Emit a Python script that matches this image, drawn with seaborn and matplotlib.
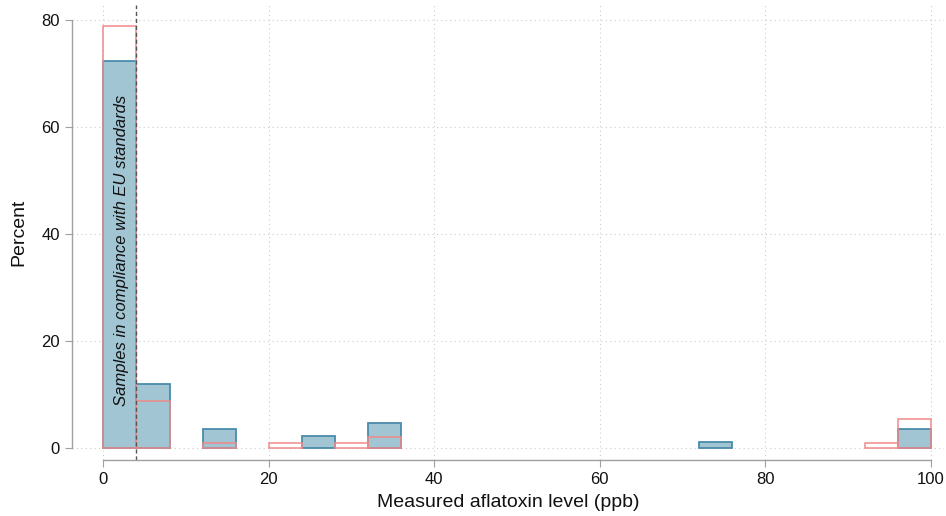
import numpy as np
import pandas as pd
import matplotlib
matplotlib.use("Agg")
import matplotlib.pyplot as plt
import seaborn as sns

# bins of width 4 ppb from 0 to 100 (left edges)
bin_left = [0, 4, 8, 12, 16, 20, 24, 28, 32, 36, 40, 44, 48,
            52, 56, 60, 64, 68, 72, 76, 80, 84, 88, 92, 96]
# percent of samples per bin
blue_pct = [72.3, 12.0, 0, 3.6, 0, 0, 2.4, 0, 4.8, 0, 0, 0, 0,
            0, 0, 0, 0, 0, 1.2, 0, 0, 0, 0, 0, 3.6]
red_pct = [78.9, 8.9, 0, 1.1, 0, 1.1, 0, 1.1, 2.2, 0, 0, 0, 0,
           0, 0, 0, 0, 0, 0, 0, 0, 0, 0, 1.1, 5.6]

sns.set_style("white")
plt.rcParams['font.family'] = ['Liberation Sans', 'DejaVu Sans']

df = pd.DataFrame({"mid": np.array(bin_left) + 2.0,
                   "blue": blue_pct, "red": red_pct})

fig, ax = plt.subplots(figsize=(9.46, 5.16), dpi=100)
fig.subplots_adjust(left=0.076, right=0.998, top=0.99, bottom=0.108)

sns.histplot(data=df, x="mid", weights="blue", binwidth=4, binrange=(0, 100), ax=ax,
             color="#a2c5d4", edgecolor="#4a8cab", linewidth=1.3, alpha=1)
sns.histplot(data=df, x="mid", weights="red", binwidth=4, binrange=(0, 100), ax=ax,
             fill=False, color="#f08a8a", linewidth=1.1)

# empty bins are not drawn
for p in list(ax.patches):
    if p.get_height() == 0:
        p.remove()

ax.axvline(4, color="#555555", linestyle=(0, (3, 2)), linewidth=1)
ax.text(2.2, 37, "Samples in compliance with EU standards", rotation=90,
        ha="center", va="center", style="italic", fontsize=12, color="#111111")

ax.set_xlim(-3.8, 101.6)
ax.set_ylim(-2.2, 82.8)
ax.set_xticks([0, 20, 40, 60, 80, 100])
ax.set_yticks([0, 20, 40, 60, 80])
ax.grid(True, color="#cccccc", linestyle=(0, (1, 3)), linewidth=0.8)
ax.set_axisbelow(True)

for s in ["top", "right"]:
    ax.spines[s].set_visible(False)
ax.spines["bottom"].set_bounds(0, 100)
ax.spines["left"].set_bounds(0, 80)
for s in ["bottom", "left"]:
    ax.spines[s].set_color("#a0a0a0")
    ax.spines[s].set_linewidth(1)
ax.tick_params(axis="both", which="both", direction="out", length=5,
               color="#a0a0a0", labelsize=12, labelcolor="#111111", bottom=True, left=True)

ax.set_xlabel("Measured aflatoxin level (ppb)", fontsize=14, color="#111111", labelpad=5)
ax.set_ylabel("Percent", fontsize=14, color="#111111", labelpad=10)

fig.savefig("out.png", dpi=100)
